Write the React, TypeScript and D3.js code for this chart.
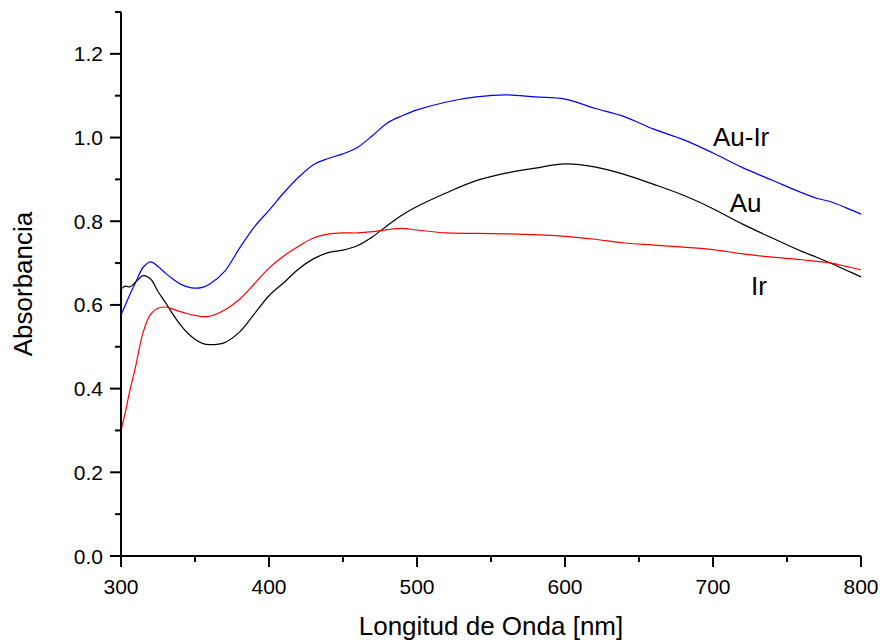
import React from "react";
import * as d3 from "d3";

// Wavelength grid (nm) shared by the three spectra
const wavelengths = [
  300, 303, 306, 310, 315, 320, 325, 330, 335, 340, 345, 350, 355, 360, 370, 380, 390,
  400, 410, 420, 430, 440, 450, 460, 470, 480, 490, 500, 520, 540, 560, 580,
  600, 620, 640, 660, 680, 700, 720, 740, 760, 770, 780, 790, 800,
];

// Absorbance of the Au-Ir sample
const auIrAbs = [
  0.576, 0.6, 0.625, 0.655, 0.69, 0.703, 0.692, 0.676, 0.662, 0.65, 0.643, 0.64, 0.642, 0.65, 0.68, 0.735, 0.786,
  0.826, 0.868, 0.905, 0.935, 0.95, 0.961, 0.977, 1.005, 1.035, 1.052, 1.066, 1.085, 1.097, 1.102, 1.097,
  1.092, 1.07, 1.05, 1.02, 0.995, 0.963, 0.928, 0.898, 0.868, 0.855, 0.846, 0.832, 0.817,
];

// Absorbance of the Au sample
const auAbs = [
  0.638, 0.645, 0.643, 0.655, 0.670, 0.662, 0.632, 0.606, 0.578, 0.553, 0.533, 0.518, 0.508, 0.505, 0.51, 0.535, 0.578,
  0.622, 0.653, 0.686, 0.71, 0.725, 0.731, 0.742, 0.763, 0.79, 0.815, 0.835, 0.868, 0.897, 0.915, 0.927,
  0.937, 0.93, 0.912, 0.888, 0.862, 0.83, 0.793, 0.76, 0.728, 0.714, 0.699, 0.683, 0.667,
];

// Absorbance of the Ir sample
const irAbs = [
  0.30, 0.345, 0.395, 0.455, 0.535, 0.578, 0.592, 0.595, 0.59, 0.584, 0.579, 0.575, 0.572, 0.573, 0.588, 0.613, 0.65,
  0.688, 0.717, 0.74, 0.76, 0.769, 0.772, 0.772, 0.775, 0.78, 0.783, 0.779, 0.772, 0.771, 0.77, 0.768,
  0.764, 0.757, 0.748, 0.743, 0.738, 0.732, 0.722, 0.714, 0.708, 0.704, 0.7, 0.692, 0.684,
];

const seriesNames = ["Au-Ir", "Au", "Ir"];
const seriesColors = ["#0000ff", "#000000", "#ff0000"];

const xMajorTicks = [300, 400, 500, 600, 700, 800];
const xMinorTicks = [350, 450, 550, 650, 750];
const yMajorTicks = [0, 0.2, 0.4, 0.6, 0.8, 1.0, 1.2];
const yMinorTicks = [0.1, 0.3, 0.5, 0.7, 0.9, 1.1, 1.3];

const W = 883;
const H = 640;
const FONT = "'Liberation Sans', Arial, Helvetica, sans-serif";

export default function App() {
  const x = d3.scaleLinear().domain([300, 800]).range([121, 861]);
  const y = d3.scaleLinear().domain([0, 1.3]).range([556, 12]);

  const line = d3
    .line<[number, number]>()
    .x((d) => x(d[0]))
    .y((d) => y(d[1]))
    .curve(d3.curveCatmullRom.alpha(0.5));

  const series = [auIrAbs, auAbs, irAbs].map((vals, i) => ({
    name: seriesNames[i],
    color: seriesColors[i],
    points: wavelengths.map((w, j) => [w, vals[j]] as [number, number]),
  }));

  // Label anchors in data units: wavelength of the label centre, absorbance of its baseline
  const labelPos = [
    { w: 719, v: 0.98 },
    { w: 722, v: 0.823 },
    { w: 731, v: 0.623 },
  ];

  const x0 = x(300);
  const y0 = y(0);

  return (
    <svg
      width={W}
      height={H}
      style={{ position: "absolute", left: 0, top: 0, background: "#fff" }}
      fontFamily={FONT}
    >
      <rect width={W} height={H} fill="#fff" />

      {/* data */}
      {series.map((s) => (
        <path
          key={s.name}
          d={line(s.points) || ""}
          fill="none"
          stroke={s.color}
          strokeWidth={1.2}
          strokeLinejoin="round"
        />
      ))}

      {/* series labels */}
      {series.map((s, i) => (
        <text
          key={"lbl" + s.name}
          x={x(labelPos[i].w)}
          y={y(labelPos[i].v)}
          textAnchor="middle"
          fontSize={26}
          fill="#000"
        >
          {s.name}
        </text>
      ))}

      {/* y axis */}
      <line x1={x0} x2={x0} y1={y(1.3)} y2={y0} stroke="#000" strokeWidth={2} />
      {yMajorTicks.map((t) => (
        <g key={"ym" + t}>
          <line x1={x0 - 11} x2={x0} y1={y(t)} y2={y(t)} stroke="#000" strokeWidth={2} />
          <text
            x={x0 - 18}
            y={y(t)}
            dy="0.36em"
            textAnchor="end"
            fontSize={21}
            fill="#000"
          >
            {t.toFixed(1)}
          </text>
        </g>
      ))}
      {yMinorTicks.map((t) => (
        <line key={"yn" + t} x1={x0 - 6} x2={x0} y1={y(t)} y2={y(t)} stroke="#000" strokeWidth={2} />
      ))}

      {/* x axis */}
      <line x1={x0} x2={x(800)} y1={y0} y2={y0} stroke="#000" strokeWidth={2} />
      {xMajorTicks.map((t) => (
        <g key={"xm" + t}>
          <line x1={x(t)} x2={x(t)} y1={y0} y2={y0 + 11} stroke="#000" strokeWidth={2} />
          <text x={x(t)} y={y0 + 38} textAnchor="middle" fontSize={21} fill="#000">
            {t}
          </text>
        </g>
      ))}
      {xMinorTicks.map((t) => (
        <line key={"xn" + t} x1={x(t)} x2={x(t)} y1={y0} y2={y0 + 6} stroke="#000" strokeWidth={2} />
      ))}

      {/* axis titles */}
      <text x={(x0 + x(800)) / 2} y={635} textAnchor="middle" fontSize={26} fill="#000">
        Longitud de Onda [nm]
      </text>
      <text
        transform={`translate(32, ${(y(1.3) + y0) / 2}) rotate(-90)`}
        textAnchor="middle"
        fontSize={26}
        fill="#000"
      >
        Absorbancia
      </text>
    </svg>
  );
}
